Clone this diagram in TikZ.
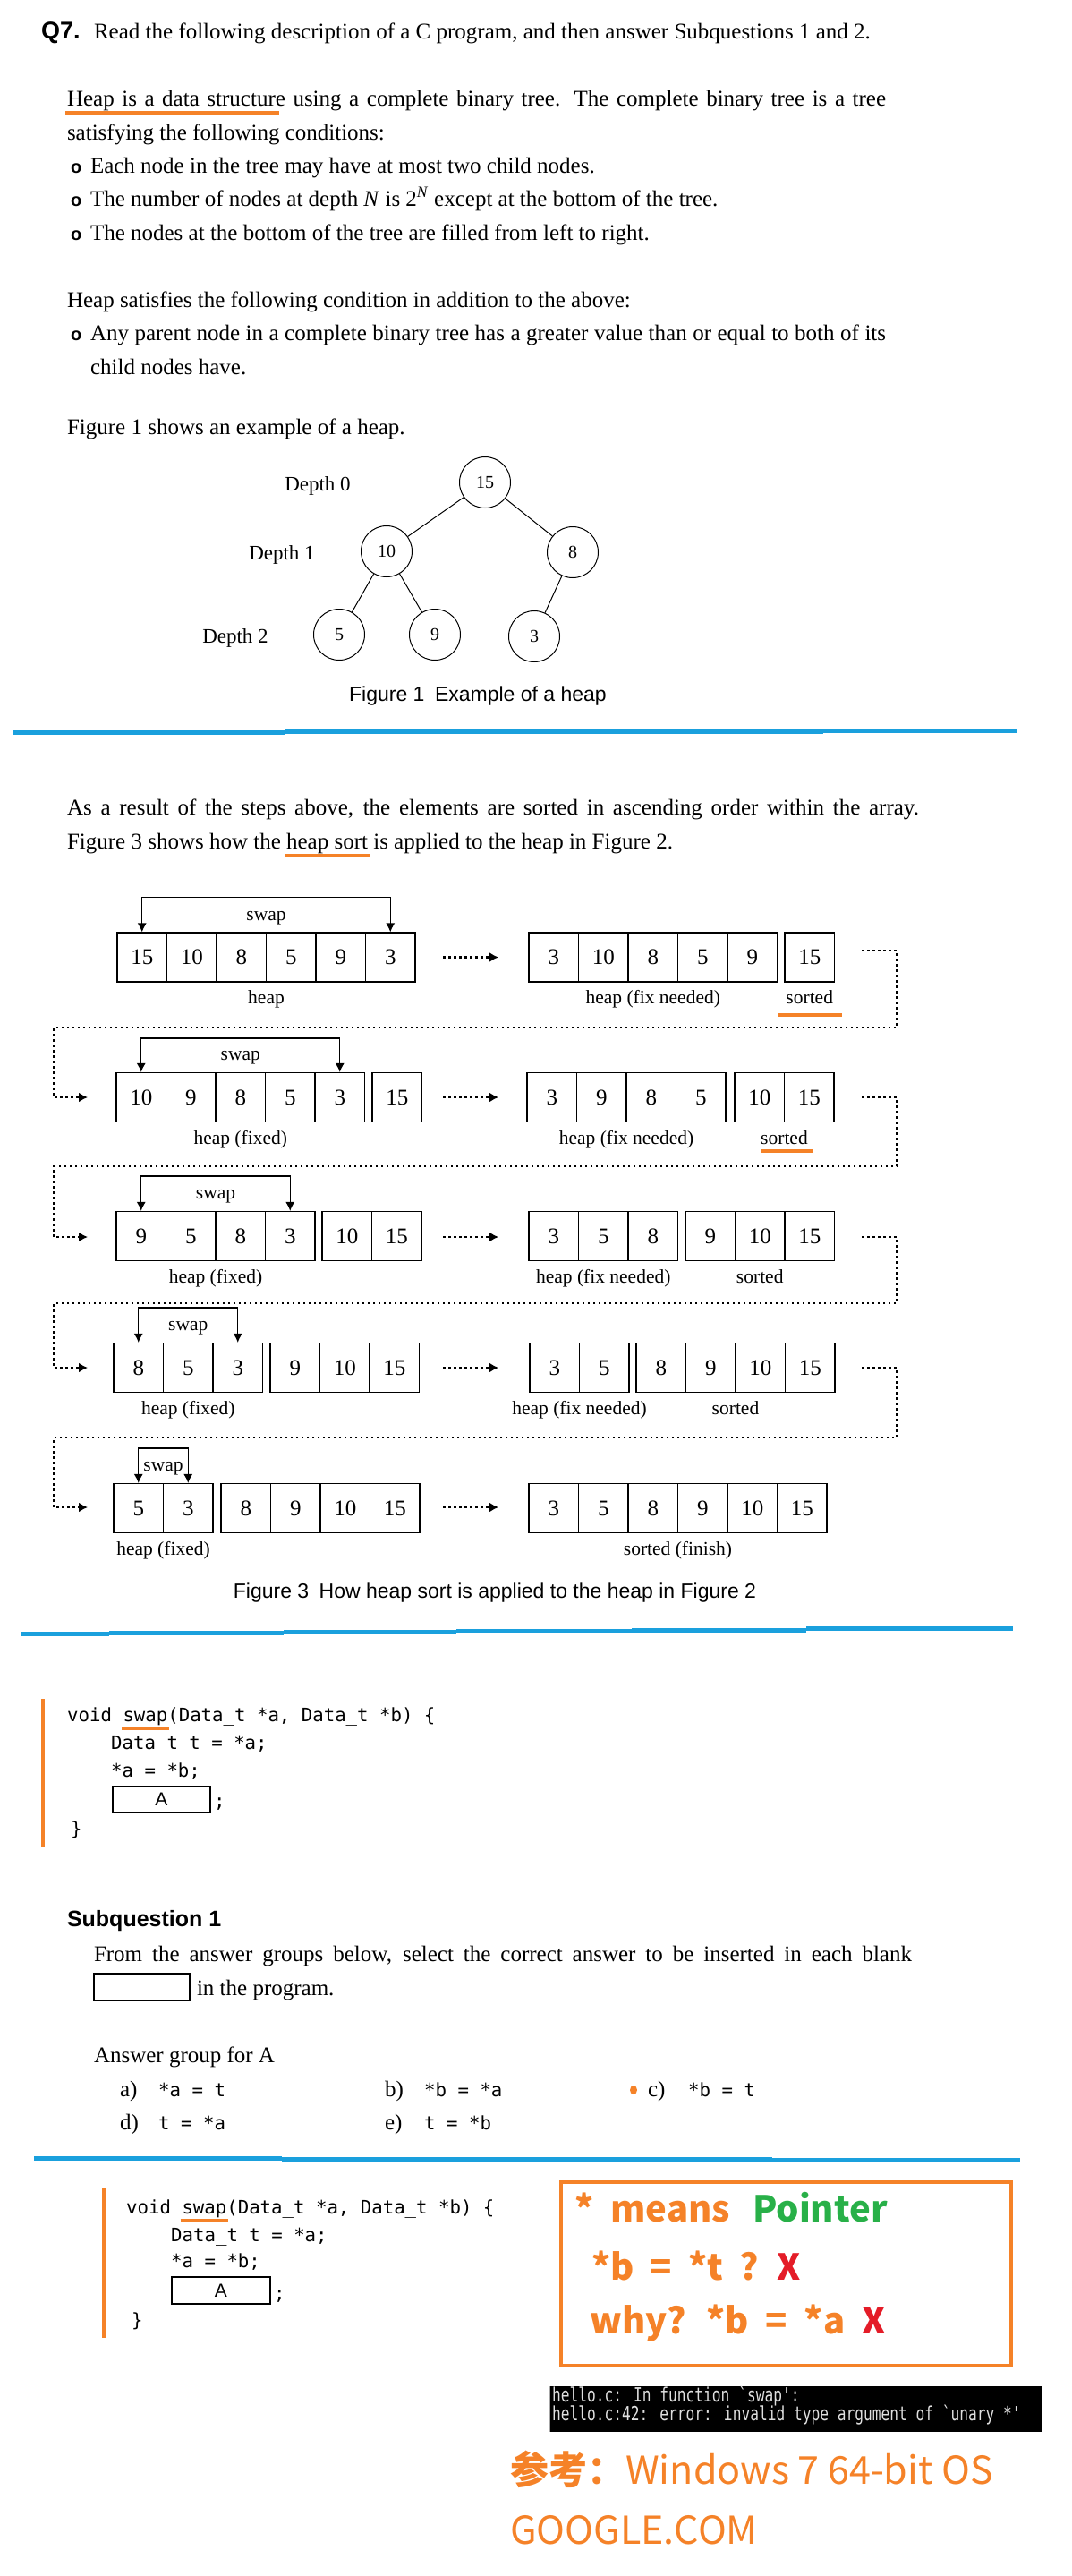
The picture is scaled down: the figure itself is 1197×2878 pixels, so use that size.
\documentclass[tikz,border=0pt]{standalone}
\usepackage{fontspec}
\setmainfont{Liberation Serif}
\setsansfont{Liberation Sans}
\setmonofont{DejaVu Sans Mono}
\newfontfamily\cjkfont{Noto Sans CJK SC}
\newfontfamily\termfont{DejaVu Sans Mono}
\usetikzlibrary{arrows.meta,calc}
\definecolor{qorange}{RGB}{245,130,40}
\definecolor{qblue}{RGB}{26,160,221}
\definecolor{qgreen}{RGB}{40,176,72}
\definecolor{qred}{RGB}{228,28,40}
\newcommand\setfs[1]{\fontsize{#1pt}{#1pt}\selectfont}
\newcommand\oul[1]{\setbox0\hbox{#1}\rlap{\kern-2pt\textcolor{qorange}{\rule[-10pt]{\dimexpr\wd0+4pt\relax}{4pt}}}#1}
\tikzset{
  txt/.style={anchor=base west, inner sep=0pt, outer sep=0pt, font=\setfs{25}},
  bul/.style={anchor=base west, inner sep=0pt, font=\sffamily\bfseries\setfs{20}},
  cell/.style={draw, line width=1.2pt, minimum width=55.5pt, minimum height=55pt, inner sep=0pt, font=\setfs{25}},
  lbl/.style={anchor=base, inner sep=0pt, font=\setfs{21.5}},
  swapln/.style={line width=1.2pt, {Latex[length=10pt,width=10pt]}-{Latex[length=10pt,width=10pt]}},
  dotln/.style={line width=2.5pt, dash pattern=on 2.5pt off 3.5pt},
  dotarr/.style={dotln, -{Latex[length=10pt,width=11pt]}},
  tnode/.style={circle, draw, line width=1pt, minimum size=57pt, inner sep=0pt, font=\setfs{20}},
  dlabel/.style={anchor=base, inner sep=0pt, font=\setfs{23}},
  capt/.style={anchor=base, inner sep=0pt, font=\sffamily\setfs{23}},
  codetxt/.style={anchor=base west, inner sep=0pt, font=\ttfamily\setfs{20.7}},
  blankbox/.style={draw, line width=2pt, inner sep=0pt},
  notetxt/.style={anchor=base west, inner sep=0pt, font=\cjkfont\bfseries\setfs{40}},
  termtxt/.style={anchor=base west, inner sep=0pt, text=white!88!black, font=\termfont\setfs{16.2}},
  blueline/.style={qblue, line width=5pt},
  orbar/.style={qorange, line width=3.5pt},
  orul/.style={qorange, line width=4pt}
}
\begin{document}
\begin{tikzpicture}[x=1pt,y=-1pt]
\useasboundingbox (0,0) rectangle (1197,2878);
\fill[white] (0,0) rectangle (1197,2878);

% ---------- Section 1 ----------
\node[txt, font=\sffamily\bfseries\setfs{27}] (q7) at (46,43) {Q7.};
\node[txt] (intro) at (105,43) {Read the following description of a C program, and then answer Subquestions 1 and 2.};
\node[txt] (p1) at (75,118) {\makebox[915pt][s]{\oul{Heap is a data structure} using a complete binary tree. The complete binary tree is a tree}};
\node[txt] (p2) at (75,156) {satisfying the following conditions:};
\node[bul] (b1) at (79,193) {o};
\node[txt] (t1) at (101,193) {Each node in the tree may have at most two child nodes.};
\node[bul] (b2) at (79,230) {o};
\node[txt] (t2) at (101,230) {The number of nodes at depth \textit{N} is 2\textsuperscript{\textit{N}} except at the bottom of the tree.};
\node[bul] (b3) at (79,268) {o};
\node[txt] (t3) at (101,268) {The nodes at the bottom of the tree are filled from left to right.};
\node[txt] (p3) at (75,343) {Heap satisfies the following condition in addition to the above:};
\node[bul] (b4) at (79,380) {o};
\node[txt] (t4) at (101,380) {\makebox[889pt][s]{Any parent node in a complete binary tree has a greater value than or equal to both of its}};
\node[txt] (t5) at (101,418) {child nodes have.};
\node[txt] (p4) at (75,485) {Figure 1 shows an example of a heap.};

% Figure 1 tree
\node[tnode] (n15) at (542,539) {15};
\node[tnode] (n10) at (432,616) {10};
\node[tnode] (n8) at (640,617) {8};
\node[tnode] (n5) at (379,709) {5};
\node[tnode] (n9) at (486,709) {9};
\node[tnode] (n3) at (597,711) {3};
\draw[line width=1pt] (n15) -- (n10);
\draw[line width=1pt] (n15) -- (n8);
\draw[line width=1pt] (n10) -- (n5);
\draw[line width=1pt] (n10) -- (n9);
\draw[line width=1pt] (n8) -- (n3);
\node[dlabel] (d0) at (355,548) {Depth 0};
\node[dlabel] (d1) at (315,625) {Depth 1};
\node[dlabel] (d2) at (263,718) {Depth 2};
\node[capt] (cap1) at (534,783) {Figure 1\hspace{0.5em}Example of a heap};

% blue separator 1
\draw[blueline] (15,818) -- (318,818);
\draw[blueline] (318,817) -- (920,817);
\draw[blueline] (920,816) -- (1136,816);

% ---------- Section 2 ----------
\node[txt] (s2a) at (75,910) {\makebox[952pt][s]{As a result of the steps above, the elements are sorted in ascending order within the array.}};
\node[txt] (s2b) at (75,948) {Figure 3 shows how the \oul{heap sort} is applied to the heap in Figure 2.};

% Row 1
\foreach \v [count=\i] in {15,10,8,5,9,3} \node[cell] (r1a\i) at ({131+(\i-0.5)*55.5},1069.5) {\v};
\foreach \v [count=\i] in {3,10,8,5,9} \node[cell] (r1b\i) at ({591+(\i-0.5)*55.5},1069.5) {\v};
\foreach \v [count=\i] in {15} \node[cell] (r1c\i) at ({877+(\i-0.5)*55.5},1069.5) {\v};
\draw[swapln] (r1a1.north) -- ++(0,-39) -| (r1a6.north);
\node[lbl] (r1sw) at ($(r1a1.north)!0.5!(r1a6.north)+(0,-13)$) {swap};
\node[lbl] (r1la) at ($(r1a1.south west)!0.5!(r1a6.south east)+(0,24)$) {heap};
\node[lbl] (r1lb) at ($(r1b1.south west)!0.5!(r1b5.south east)+(0,24)$) {heap (fix needed)};
\node[lbl] (r1lc) at ($(r1c1.south west)!0.5!(r1c1.south east)+(0,24)$) {sorted};
\draw[orul] (870,1134) -- (941,1134);
\coordinate (r1s) at (495,1069.5);
\coordinate (r1t) at (557,1069.5);
\draw[dotarr] (r1s) -- (r1t);

% Row 2
\foreach \v [count=\i] in {10,9,8,5,3} \node[cell] (r2a\i) at ({130+(\i-0.5)*55.5},1226) {\v};
\foreach \v [count=\i] in {15} \node[cell] (r2b\i) at ({416+(\i-0.5)*55.5},1226) {\v};
\foreach \v [count=\i] in {3,9,8,5} \node[cell] (r2c\i) at ({589+(\i-0.5)*55.5},1226) {\v};
\foreach \v [count=\i] in {10,15} \node[cell] (r2d\i) at ({821+(\i-0.5)*55.5},1226) {\v};
\draw[swapln] (r2a1.north) -- ++(0,-38) -| (r2a5.north);
\node[lbl] (r2sw) at ($(r2a1.north)!0.5!(r2a5.north)+(0,-13)$) {swap};
\node[lbl] (r2la) at ($(r2a1.south west)!0.5!(r2a5.south east)+(0,24)$) {heap (fixed)};
\node[lbl] (r2lc) at ($(r2c1.south west)!0.5!(r2c4.south east)+(0,24)$) {heap (fix needed)};
\node[lbl] (r2ld) at ($(r2d1.south west)!0.5!(r2d2.south east)+(0,24)$) {sorted};
\draw[orul] (851,1286) -- (908,1286);
\coordinate (r2s) at (495,1226);
\coordinate (r2t) at (557,1226);
\draw[dotarr] (r2s) -- (r2t);

% Row 3
\foreach \v [count=\i] in {9,5,8,3} \node[cell] (r3a\i) at ({130+(\i-0.5)*55.5},1381) {\v};
\foreach \v [count=\i] in {10,15} \node[cell] (r3b\i) at ({360+(\i-0.5)*55.5},1381) {\v};
\foreach \v [count=\i] in {3,5,8} \node[cell] (r3c\i) at ({591+(\i-0.5)*55.5},1381) {\v};
\foreach \v [count=\i] in {9,10,15} \node[cell] (r3d\i) at ({766+(\i-0.5)*55.5},1381) {\v};
\draw[swapln] (r3a1.north) -- ++(0,-39) -| (r3a4.north);
\node[lbl] (r3sw) at ($(r3a1.north)!0.5!(r3a4.north)+(0,-13)$) {swap};
\node[lbl] (r3la) at ($(r3a1.south west)!0.5!(r3a4.south east)+(0,24)$) {heap (fixed)};
\node[lbl] (r3lc) at ($(r3c1.south west)!0.5!(r3c3.south east)+(0,24)$) {heap (fix needed)};
\node[lbl] (r3ld) at ($(r3d1.south west)!0.5!(r3d3.south east)+(0,24)$) {sorted};
\coordinate (r3s) at (495,1382);
\coordinate (r3t) at (557,1382);
\draw[dotarr] (r3s) -- (r3t);

% Row 4
\foreach \v [count=\i] in {8,5,3} \node[cell] (r4a\i) at ({127+(\i-0.5)*55.5},1528) {\v};
\foreach \v [count=\i] in {9,10,15} \node[cell] (r4b\i) at ({302+(\i-0.5)*55.5},1528) {\v};
\foreach \v [count=\i] in {3,5} \node[cell] (r4c\i) at ({592+(\i-0.5)*55.5},1528) {\v};
\foreach \v [count=\i] in {8,9,10,15} \node[cell] (r4d\i) at ({711+(\i-0.5)*55.5},1528) {\v};
\draw[swapln] (r4a1.north) -- ++(0,-39) -| (r4a3.north);
\node[lbl] (r4sw) at ($(r4a1.north)!0.5!(r4a3.north)+(0,-13)$) {swap};
\node[lbl] (r4la) at ($(r4a1.south west)!0.5!(r4a3.south east)+(0,24)$) {heap (fixed)};
\node[lbl] (r4lc) at ($(r4c1.south west)!0.5!(r4c2.south east)+(0,24)$) {heap (fix needed)};
\node[lbl] (r4ld) at ($(r4d1.south west)!0.5!(r4d4.south east)+(0,24)$) {sorted};
\coordinate (r4s) at (495,1528);
\coordinate (r4t) at (557,1528);
\draw[dotarr] (r4s) -- (r4t);

% Row 5
\foreach \v [count=\i] in {5,3} \node[cell] (r5a\i) at ({127+(\i-0.5)*55.5},1685) {\v};
\foreach \v [count=\i] in {8,9,10,15} \node[cell] (r5b\i) at ({247+(\i-0.5)*55.5},1685) {\v};
\foreach \v [count=\i] in {3,5,8,9,10,15} \node[cell] (r5c\i) at ({591+(\i-0.5)*55.5},1685) {\v};
\draw[swapln] (r5a1.north) -- ++(0,-39) -| (r5a2.north);
\node[lbl] (r5sw) at ($(r5a1.north)!0.5!(r5a2.north)+(0,-13)$) {swap};
\node[lbl] (r5la) at ($(r5a1.south west)!0.5!(r5a2.south east)+(0,24)$) {heap (fixed)};
\node[lbl] (r5lc) at ($(r5c1.south west)!0.5!(r5c6.south east)+(0,24)$) {sorted (finish)};
\coordinate (r5s) at (495,1684);
\coordinate (r5t) at (557,1684);
\draw[dotarr] (r5s) -- (r5t);

% row-to-row connectors
\coordinate (k1a) at (963,1062);  \coordinate (k1b) at (98,1226);
\coordinate (k2a) at (963,1226);  \coordinate (k2b) at (98,1382);
\coordinate (k3a) at (963,1382);  \coordinate (k3b) at (98,1528);
\coordinate (k4a) at (963,1528);  \coordinate (k4b) at (98,1684);
\draw[dotarr] (k1a) -- (1002,1062) |- (60,1148) |- (k1b);
\draw[dotarr] (k2a) -- (1002,1226) |- (60,1303) |- (k2b);
\draw[dotarr] (k3a) -- (1002,1382) |- (60,1456) |- (k3b);
\draw[dotarr] (k4a) -- (1002,1528) |- (60,1606) |- (k4b);

\node[capt] (cap3) at (553,1785) {Figure 3\hspace{0.5em}How heap sort is applied to the heap in Figure 2};

% blue separator 2
\draw[blueline] (23,1825.5) -- (122,1825.5);
\draw[blueline] (122,1824) -- (317,1824);
\draw[blueline] (317,1823) -- (510,1823);
\draw[blueline] (510,1822) -- (706,1822);
\draw[blueline] (706,1821) -- (901,1821);
\draw[blueline] (901,1819.5) -- (1095,1819.5);
\draw[blueline] (1095,1819) -- (1132,1819);

% ---------- Code block 1 ----------
\draw[orbar] (48,1898) -- (48,2063);
\node[codetxt] (c1l1) at (75,1923) {void \oul{swap}(Data\_t *a, Data\_t *b) \{};
\node[codetxt] (c1l2) at (124,1954) {Data\_t t = *a;};
\node[codetxt] (c1l3) at (124,1985) {*a = *b;};
\node[blankbox, minimum width=109pt, minimum height=29pt, font=\sffamily\setfs{21}] (c1A) at (180.5,2010.5) {A};
\node[codetxt] (c1sc) at (239,2019) {;};
\node[codetxt] (c1l5) at (79,2050) {\}};

% ---------- Subquestion 1 ----------
\node[txt, font=\sffamily\bfseries\setfs{25}] (sq1) at (75,2152) {Subquestion 1};
\node[txt] (sq1a) at (105,2191) {\makebox[914pt][s]{From the answer groups below, select the correct answer to be inserted in each blank}};
\node[blankbox, minimum width=107pt, minimum height=30pt] (blank) at (158.5,2220) {};
\node[txt] (sq1b) at (220,2229) {in the program.};
\node[txt] (agA) at (105,2304) {Answer group for A};
\node[txt] (oa) at (134,2342) {a)};
\node[codetxt] (oat) at (177,2342) {*a = t};
\node[txt] (ob) at (430,2342) {b)};
\node[codetxt] (obt) at (474,2342) {*b = *a};
\fill[qorange] (708,2335) ellipse (4pt and 5pt);
\node[txt] (oc) at (724,2342) {c)};
\node[codetxt] (oct) at (769,2342) {*b = t};
\node[txt] (od) at (134,2379) {d)};
\node[codetxt] (odt) at (177,2379) {t = *a};
\node[txt] (oe) at (430,2379) {e)};
\node[codetxt] (oet) at (474,2379) {t = *b};

% blue separator 3
\draw[blueline] (38,2411.7) -- (315,2411.7);
\draw[blueline] (315,2412.7) -- (863,2412.7);
\draw[blueline] (863,2413.3) -- (1140,2413.3);

% ---------- Code block 2 ----------
\draw[orbar] (116,2445) -- (116,2612);
\node[codetxt] (c2l1) at (141,2473) {void \oul{swap}(Data\_t *a, Data\_t *b) \{};
\node[codetxt] (c2l2) at (191,2504) {Data\_t t = *a;};
\node[codetxt] (c2l3) at (191,2533) {*a = *b;};
\node[blankbox, minimum width=110pt, minimum height=30pt, font=\sffamily\setfs{21}] (c2A) at (247,2559) {A};
\node[codetxt] (c2sc) at (306,2569) {;};
\node[codetxt] (c2l5) at (147,2599) {\}};

% note box
\node[draw=qorange, line width=4.5pt, minimum width=503pt, minimum height=205pt, inner sep=0pt] (note) at (878.5,2540.5) {};
\node[notetxt] (nt1) at (642,2482) {\textcolor{qorange}{*\hspace{19pt}means}\hspace{25pt}\textcolor{qgreen}{Pointer}};
\node[notetxt] (nt2) at (661,2547) {\spaceskip=18pt\relax\textcolor{qorange}{*b = *t ?} \textcolor{qred}{X}};
\node[notetxt] (nt3) at (659,2607) {\spaceskip=19pt\relax\textcolor{qorange}{why? *b = *a} \textcolor{qred}{X}};

% terminal
\node[fill=black, minimum width=550pt, minimum height=51pt, inner sep=0pt, anchor=north west] (term) at (614,2666) {};
\draw[gray!70, line width=2pt] (term.north west) -- (term.south west);
\node[termtxt] (tm1) at (617,2683) {\scalebox{1}[1.35]{hello.c: In function `swap':}};
\node[termtxt] (tm2) at (617,2704) {\scalebox{1}[1.35]{hello.c:42: error: invalid type argument of `unary *'}};

% reference lines
\node[anchor=base west, inner sep=0pt, text=qorange, font=\cjkfont\setfs{43}] (ref1) at (570,2775) {{\bfseries 参考：}Windows 7 64-bit OS};
\node[anchor=base west, inner sep=0pt, text=qorange, font=\cjkfont\setfs{43}] (ref2) at (570,2842) {GOOGLE.COM};
\end{tikzpicture}
\end{document}
